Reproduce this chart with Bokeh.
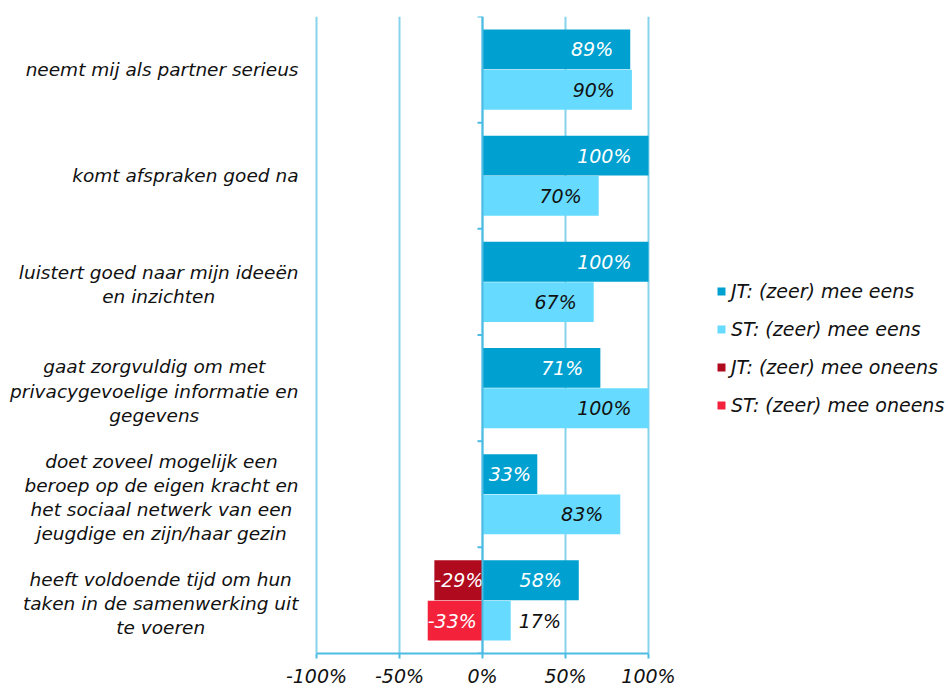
from bokeh.plotting import figure
from bokeh.models import (FixedTicker, Legend, LegendItem, Span,
                          ColumnDataSource, Range1d)
from bokeh.core.properties import value
from bokeh.embed import file_html
from bokeh.resources import INLINE

# ---------------- data ----------------
categories = [
    "neemt mij als partner serieus",
    "komt afspraken goed na",
    "luistert goed naar mijn ideeën\nen inzichten",
    "gaat zorgvuldig om met\nprivacygevoelige informatie en\ngegevens",
    "doet zoveel mogelijk een\nberoep op de eigen kracht en\nhet sociaal netwerk van een\njeugdige en zijn/haar gezin",
    "heeft voldoende tijd om hun\ntaken in de samenwerking uit\nte voeren",
]
jt_eens = [89, 100, 100, 71, 33, 58]
st_eens = [90, 70, 67, 100, 83, 17]
jt_oneens = [0, 0, 0, 0, 0, -29]
st_oneens = [0, 0, 0, 0, 0, -33]
series_names = ["JT: (zeer) mee eens", "ST: (zeer) mee eens",
                "JT: (zeer) mee oneens", "ST: (zeer) mee oneens"]
x_ticks = [-100, -50, 0, 50, 100]
x_tick_labels = ["-100%", "-50%", "0%", "50%", "100%"]

# ---------------- styles / layout ----------------
FONT = "DejaVu Sans"
FS = "19px"
CAT_FS = 18.5
colors = ["#00A1D0", "#66DBFF", "#B00A1E", "#F4213B"]
label_colors = ["#FFFFFF", "#111111", "#FFFFFF", "#FFFFFF"]
GRID = "#86D3EC"
AXIS = "#4DBCE3"
TXT = "#111111"

W, H = 948, 689
PLOT_L, PLOT_R = 316, 648          # pixel positions of -100% and 100%
PX = (PLOT_R - PLOT_L) / 200.0     # pixels per percent
x_lo = -100 - PLOT_L / PX
x_hi = 100 + (W - PLOT_R) / PX

# approximate DejaVu Sans advance widths (em) to centre lines inside a right-aligned block
ADV = dict(a=.613, b=.635, c=.55, d=.635, e=.615, f=.352, g=.635, h=.634, i=.278,
           j=.278, k=.579, l=.278, m=.974, n=.634, o=.612, p=.635, q=.635, r=.411,
           s=.521, t=.392, u=.634, v=.592, w=.818, x=.592, y=.592, z=.525)
ADV.update({" ": .318, "ë": .615, "/": .337})


def text_width(s, size):
    return sum(ADV.get(ch, .6) for ch in s) * size


n = len(categories)
centers = [n - i - 0.5 for i in range(n)]
BAR_H = 0.375
OFF = 0.19
jt_y = [c + OFF for c in centers]
st_y = [c - OFF for c in centers]

p = figure(width=W, height=H, x_range=Range1d(x_lo, x_hi), y_range=Range1d(0, n),
           output_backend="svg", toolbar_location=None, y_axis_location=None,
           min_border_left=0, min_border_right=0, min_border_top=16,
           min_border_bottom=32)
p.outline_line_color = None
p.ygrid.visible = False
p.xgrid.ticker = FixedTicker(ticks=x_ticks)
p.xgrid.grid_line_color = GRID
p.xgrid.grid_line_width = 2

xa = p.xaxis[0]
xa.ticker = FixedTicker(ticks=x_ticks)
xa.bounds = (x_ticks[0], x_ticks[-1])
xa.major_label_overrides = {t: l for t, l in zip(x_ticks, x_tick_labels)}
xa.axis_line_color = AXIS
xa.axis_line_width = 2
xa.major_tick_line_color = AXIS
xa.major_tick_line_width = 2
xa.major_tick_in = 0
xa.major_tick_out = 5
xa.minor_tick_line_color = None
xa.major_label_standoff = 6
xa.major_label_text_font = FONT
xa.major_label_text_font_style = "italic"
xa.major_label_text_font_size = FS
xa.major_label_text_color = TXT

# zero axis line with small ticks at the category boundaries
p.add_layout(Span(location=0, dimension="height", line_color=AXIS, line_width=2))
bounds_y = list(range(n + 1))
p.segment(x0=[0] * len(bounds_y), x1=[-5 / PX] * len(bounds_y), y0=bounds_y, y1=bounds_y,
          line_color=AXIS, line_width=2)

series = [(jt_eens, jt_y), (st_eens, st_y), (jt_oneens, jt_y), (st_oneens, st_y)]
renderers = []
for (vals, ys), col in zip(series, colors):
    src = ColumnDataSource(dict(y=ys, right=vals, left=[0] * len(vals)))
    r = p.hbar(y="y", left="left", right="right", height=BAR_H, source=src,
               fill_color=col, line_color=None)
    renderers.append(r)

# value labels
for (vals, ys), tcol in zip(series, label_colors):
    groups = {}
    for v, y in zip(vals, ys):
        if v == 0:
            continue
        w = abs(v) * PX
        if v < 0:
            key, x, xo = "left", v, 0
        elif w >= 75:
            key, x, xo = "right", v, -17
        elif w >= 45:
            key, x, xo = "center", v / 2.0, 0
        else:
            key, x, xo = "left", v, 8
        g = groups.setdefault((key, xo), dict(x=[], y=[], text=[]))
        g["x"].append(x)
        g["y"].append(y)
        g["text"].append(f"{v}%")
    for (align, xo), g in groups.items():
        col = TXT if (align == "left" and xo > 0) else tcol
        p.text(x="x", y="y", text="text", source=ColumnDataSource(g),
               text_align=align, text_baseline="middle", x_offset=xo,
               text_font=value(FONT), text_font_style="italic",
               text_font_size=FS, text_color=col)

# category labels: block right edge 18px left of the -100% line, lines centred
right_px = -18
cat_x, cat_xo, cat_yo = [], [], []
for cat in categories:
    lines = cat.split("\n")
    bw = max(text_width(line, CAT_FS) for line in lines)
    cat_x.append(x_ticks[0])
    cat_xo.append(right_px - bw / 2.0)
    cat_yo.append(3 if len(lines) > 1 else 0)
cat_src = ColumnDataSource(dict(x=cat_x, xo=cat_xo, yo=cat_yo, y=centers, text=categories))
p.text(x="x", y="y", text="text", source=cat_src, x_offset="xo", y_offset="yo",
       text_align="center", text_baseline="middle", text_font=value(FONT),
       text_font_style="italic", text_font_size=f"{CAT_FS}px", text_color=TXT,
       text_line_height=1.15)

legend = Legend(items=[LegendItem(label=nm, renderers=[r])
                       for nm, r in zip(series_names, renderers)],
                location=(716, 237), glyph_width=10, glyph_height=10,
                label_text_font=FONT, label_text_font_style="italic",
                label_text_font_size=FS, label_text_color=TXT,
                spacing=16, padding=0, margin=0, border_line_color=None,
                background_fill_alpha=0, label_standoff=5, label_height=20)
p.add_layout(legend)

open("out.html", "w").write(file_html(p, INLINE))
